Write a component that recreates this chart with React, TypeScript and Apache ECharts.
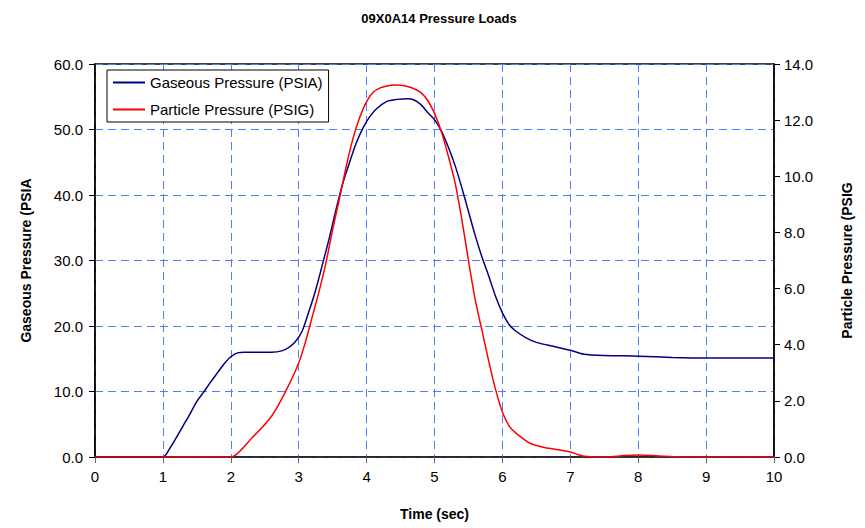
import React, { useEffect, useRef } from "react";
import * as echarts from "echarts";

const titleText = "09X0A14 Pressure Loads";
const gasName = "Gaseous Pressure (PSIA)";
const partName = "Particle Pressure (PSIG)";
const leftAxisName = "Gaseous Pressure (PSIA";
const rightAxisName = "Particle Pressure (PSIG";
const xAxisName = "Time (sec)";

const gasTime = [0, 1, 1.1, 1.2, 1.3, 1.4, 1.5, 1.6, 1.7, 1.8, 1.9, 2.0, 2.1, 2.2, 2.4, 2.6, 2.75, 2.85, 2.95, 3.05, 3.15, 3.25, 3.35, 3.45, 3.55, 3.65, 3.75, 3.85, 3.95, 4.05, 4.15, 4.3, 4.45, 4.6, 4.7, 4.8, 4.9, 5.0, 5.1, 5.2, 5.3, 5.4, 5.5, 5.6, 5.7, 5.8, 5.9, 6.0, 6.1, 6.2, 6.35, 6.5, 6.75, 7.0, 7.2, 7.5, 8.0, 8.5, 9.0, 10];
const gasValues = [0, 0, 1.3, 3.0, 4.8, 6.6, 8.5, 9.9, 11.4, 12.8, 14.2, 15.3, 15.9, 16.0, 16.0, 16.0, 16.2, 16.7, 17.6, 19.2, 22.2, 25.5, 29.4, 33.4, 37.8, 41.8, 45.0, 48.0, 50.3, 52.0, 53.2, 54.3, 54.6, 54.7, 54.5, 53.8, 52.6, 51.5, 49.8, 47.4, 44.6, 41.2, 37.5, 33.8, 30.5, 27.6, 24.5, 22.0, 20.2, 19.2, 18.2, 17.5, 16.9, 16.3, 15.7, 15.5, 15.4, 15.2, 15.1, 15.1];

const partTime = [0, 1.2, 2.0, 2.3, 2.6, 2.8, 3.0, 3.1, 3.2, 3.3, 3.4, 3.5, 3.6, 3.7, 3.8, 3.9, 4.0, 4.1, 4.2, 4.3, 4.4, 4.5, 4.6, 4.7, 4.8, 4.9, 5.0, 5.1, 5.2, 5.3, 5.4, 5.5, 5.6, 5.7, 5.8, 5.9, 6.0, 6.1, 6.2, 6.4, 6.6, 6.8, 7.0, 7.1, 7.2, 7.5, 7.8, 8.0, 8.3, 8.6, 9.0, 10];
const partValues = [0, 0, 0, 0.65, 1.45, 2.3, 3.35, 4.1, 5.0, 5.9, 6.9, 8.1, 9.2, 10.35, 11.35, 12.1, 12.66, 13.0, 13.15, 13.22, 13.25, 13.24, 13.2, 13.12, 12.98, 12.7, 12.24, 11.6, 10.75, 9.8, 8.5, 7.0, 5.6, 4.5, 3.4, 2.4, 1.6, 1.1, 0.85, 0.5, 0.35, 0.27, 0.18, 0.1, 0.03, 0, 0.05, 0.07, 0.04, 0.01, 0, 0];

const xTicks = { min: 0, max: 10, interval: 1 };
const leftTicks = { min: 0, max: 60, interval: 10 };
const rightTicks = { min: 0, max: 14, interval: 2 };

const gridBlue = "#4f7ef5";
const font = "Liberation Sans, Arial, sans-serif";

export default function App() {
  const ref = useRef<HTMLDivElement>(null);
  useEffect(() => {
    if (!ref.current) return;
    const chart = echarts.init(ref.current, null, { renderer: "svg" });
    const gasData = gasTime.map((t, i) => [t, gasValues[i]]);
    const partData = partTime.map((t, i) => [t, partValues[i]]);
    chart.setOption({
      animation: false,
      backgroundColor: "#ffffff",
      textStyle: { fontFamily: font },
      title: {
        text: titleText,
        left: 434,
        textAlign: "center",
        top: 7,
        textStyle: { fontSize: 13, fontWeight: "bold", color: "#000", fontFamily: font },
      },
      legend: {
        orient: "vertical",
        left: 107,
        top: 70,
        padding: [5, 6, 5, 6],
        itemGap: 12,
        itemWidth: 32,
        itemHeight: 2,
        icon: "rect",
        borderColor: "#000",
        borderWidth: 1,
        backgroundColor: "#fff",
        textStyle: { fontSize: 15, color: "#000", fontFamily: font, padding: [0, 0, 0, 0] },
        data: [gasName, partName],
      },
      grid: {
        left: 95,
        right: 91,
        top: 64,
        bottom: 71,
        show: true,
        borderColor: "#000",
        borderWidth: 1.5,
        backgroundColor: "transparent",
      },
      xAxis: {
        type: "value",
        ...xTicks,
        name: xAxisName,
        nameLocation: "middle",
        nameGap: 50,
        nameTextStyle: { fontSize: 14, fontWeight: "bold", color: "#000", fontFamily: font },
        axisLine: { show: true, lineStyle: { color: "#222", width: 1.5 } },
        axisTick: { show: true, length: 6, lineStyle: { color: "#666" } },
        axisLabel: { fontSize: 15, color: "#000", margin: 12, fontFamily: font },
        splitLine: { show: true, lineStyle: { color: gridBlue, type: [8, 5], width: 1 } },
      },
      yAxis: [
        {
          type: "value",
          position: "left",
          ...leftTicks,
          name: leftAxisName,
          nameLocation: "middle",
          nameRotate: 90,
          nameGap: 62,
          nameTextStyle: { fontSize: 14, fontWeight: "bold", color: "#000", fontFamily: font },
          axisLine: { show: true, lineStyle: { color: "#000", width: 1.5 } },
          axisTick: { show: true, length: 6, lineStyle: { color: "#000" } },
          axisLabel: { fontSize: 15, color: "#000", margin: 12, formatter: (v: number) => v.toFixed(1), fontFamily: font },
          splitLine: { show: true, lineStyle: { color: gridBlue, type: [8, 5], width: 1 } },
        },
        {
          type: "value",
          position: "right",
          ...rightTicks,
          name: rightAxisName,
          nameLocation: "middle",
          nameRotate: 90,
          nameGap: 66,
          nameTextStyle: { fontSize: 14, fontWeight: "bold", color: "#000", fontFamily: font },
          axisLine: { show: true, lineStyle: { color: "#000", width: 1.5 } },
          axisTick: { show: true, length: 6, lineStyle: { color: "#000" } },
          axisLabel: { fontSize: 15, color: "#000", margin: 10, formatter: (v: number) => v.toFixed(1), fontFamily: font },
          splitLine: { show: false },
        },
      ],
      series: [
        {
          name: gasName,
          type: "line",
          yAxisIndex: 0,
          data: gasData,
          showSymbol: false,
          symbol: "none",
          smooth: 0.25,
          lineStyle: { color: "#000080", width: 1.5 },
          itemStyle: { color: "#000080" },
          z: 3,
        },
        {
          name: partName,
          type: "line",
          yAxisIndex: 1,
          data: partData,
          showSymbol: false,
          symbol: "none",
          smooth: 0.25,
          lineStyle: { color: "#ff0000", width: 1.5 },
          itemStyle: { color: "#ff0000" },
          z: 4,
        },
      ],
    });
    return () => chart.dispose();
  }, []);
  return (
    <div
      ref={ref}
      style={{ position: "fixed", left: 0, top: 0, width: 865, height: 528, background: "#fff" }}
    />
  );
}
